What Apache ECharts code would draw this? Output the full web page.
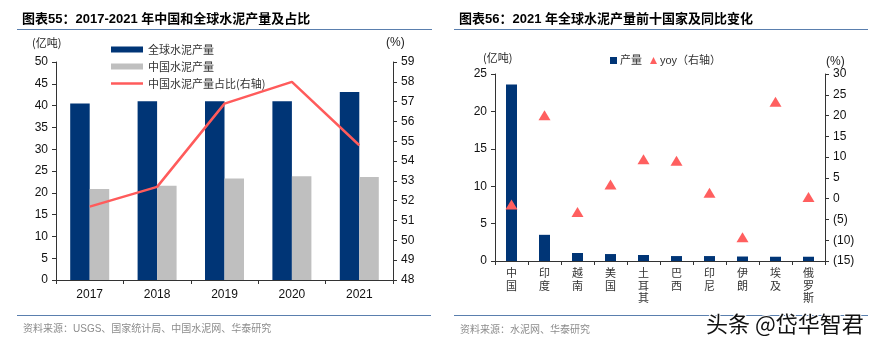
<!DOCTYPE html>
<html><head><meta charset="utf-8">
<script src="https://cdn.jsdelivr.net/npm/echarts@6/dist/echarts.min.js"></script>
<style>html,body{margin:0;padding:0;background:#fff}#c{width:876px;height:348px}</style>
</head><body><div id="c"></div>
<script>
// Left chart data
var years = ['2017', '2018', '2019', '2020', '2021'];
var globalOutput = [40.5, 41.0, 41.0, 41.0, 43.1];
var chinaOutput = [20.9, 21.6, 23.3, 23.8, 23.6];
var chinaShare = [51.7, 52.7, 56.9, 58.0, 54.8];
// Right chart data
var countries = ['中国', '印度', '越南', '美国', '土耳其', '巴西', '印尼', '伊朗', '埃及', '俄罗斯'];
var output2021 = [23.6, 3.5, 1.07, 0.93, 0.8, 0.66, 0.66, 0.6, 0.57, 0.57];
var yoy = [-1.4, 20.1, -3.2, 3.4, 9.5, 9.1, 1.4, -9.3, 23.3, 0.4];

var FONT = 'Liberation Sans, Arial, Noto Sans CJK SC, sans-serif';
var CJK = 'Noto Sans CJK SC, sans-serif';
var NAVY = '#003576', GRAY = '#bfbfbf', RED = '#ff5b5b';

var chart = echarts.init(document.getElementById('c'), null, {renderer: 'canvas'});
var axisLine = {show: true, lineStyle: {color: '#333', width: 1}};
var axisTick = {show: true, length: 4, lineStyle: {color: '#333'}};
var labelStyle = {color: '#111', fontSize: 12, fontFamily: FONT};

chart.setOption({
  animation: false,
  textStyle: {fontFamily: FONT},
  title: [
    {text: '图表55：2017-2021 年中国和全球水泥产量及占比', left: 17, top: 8,
      textStyle: {fontSize: 13, fontWeight: 'bold', color: '#000', fontFamily: FONT}},
    {text: '图表56：2021 年全球水泥产量前十国家及同比变化', left: 454, top: 8,
      textStyle: {fontSize: 13, fontWeight: 'bold', color: '#000', fontFamily: FONT}},
    {text: '资料来源：USGS、国家统计局、中国水泥网、华泰研究', left: 18, top: 319,
      textStyle: {fontSize: 10, fontWeight: 'normal', color: '#8c8c8c', fontFamily: FONT}},
    {text: '资料来源：水泥网、华泰研究', left: 455, top: 319,
      textStyle: {fontSize: 10, fontWeight: 'normal', color: '#8c8c8c', fontFamily: CJK}}
  ],
  graphic: [
    {type: 'line', shape: {x1: 17, y1: 29.5, x2: 432, y2: 29.5}, style: {stroke: '#5a7fae', lineWidth: 1}},
    {type: 'line', shape: {x1: 454, y1: 29.5, x2: 868, y2: 29.5}, style: {stroke: '#5a7fae', lineWidth: 1}},
    {type: 'line', shape: {x1: 17, y1: 315.5, x2: 431, y2: 315.5}, style: {stroke: '#5a7fae', lineWidth: 1}},
    {type: 'line', shape: {x1: 454, y1: 315.5, x2: 868, y2: 315.5}, style: {stroke: '#5a7fae', lineWidth: 1}},
    {type: 'text', left: 32, top: 37, style: {text: '(亿吨)', fill: '#222', font: '11px ' + CJK}},
    {type: 'text', left: 386, top: 37, style: {text: '(%)', fill: '#222', font: '12px ' + FONT}},
    {type: 'text', left: 483, top: 52, style: {text: '(亿吨)', fill: '#222', font: '11px ' + CJK}},
    {type: 'text', left: 826, top: 56, style: {text: '(%)', fill: '#222', font: '12px ' + FONT}},
    {type: 'text', left: 705, top: 312, z: 100, style: {text: '头条 @岱华智君', fill: '#111', stroke: '#fff', lineWidth: 2, font: '22px ' + CJK}}
  ],
  legend: [
    {orient: 'vertical', left: 106, top: 39, itemWidth: 32, itemHeight: 6, itemGap: 6,
      textStyle: {fontSize: 11, color: '#333', fontFamily: CJK},
      data: [{name: '全球水泥产量', icon: 'rect'}, {name: '中国水泥产量', icon: 'rect'},
        {name: '中国水泥产量占比(右轴)', icon: 'path://M0,0 L32,0 L32,2.5 L0,2.5 Z', itemStyle: {color: RED}}]},
    {orient: 'horizontal', left: 605, top: 50, itemWidth: 7, itemHeight: 7, itemGap: 8,
      textStyle: {fontSize: 11, color: '#333', fontFamily: FONT, padding: [0, 0, 0, -2]},
      data: [{name: '产量', icon: 'rect'}, {name: 'yoy（右轴）', icon: 'triangle'}]}
  ],
  grid: [
    {left: 56, right: 483, top: 62, bottom: 68},
    {left: 495, right: 51, top: 74, bottom: 87}
  ],
  xAxis: [
    {type: 'category', gridIndex: 0, data: years, axisLine: axisLine,
      axisTick: {show: true, length: 4, alignWithLabel: false, lineStyle: {color: '#333'}},
      axisLabel: {color: '#111', fontSize: 12, fontFamily: FONT, margin: 9}},
    {type: 'category', gridIndex: 1, data: countries, axisLine: axisLine,
      axisTick: {show: true, length: 4, lineStyle: {color: '#333'}},
      axisLabel: {color: '#333', fontSize: 11, fontFamily: CJK, margin: 6, lineHeight: 12.5,
        formatter: function (v) { return v.split('').join('\n'); }}}
  ],
  yAxis: [
    {type: 'value', gridIndex: 0, min: 0, max: 50, interval: 5, splitLine: {show: false},
      axisLine: axisLine, axisTick: axisTick, axisLabel: labelStyle},
    {type: 'value', gridIndex: 0, min: 48, max: 59, interval: 1, position: 'right', splitLine: {show: false},
      axisLine: axisLine, axisTick: axisTick, axisLabel: labelStyle},
    {type: 'value', gridIndex: 1, min: 0, max: 25, interval: 5, splitLine: {show: false},
      axisLine: axisLine, axisTick: axisTick, axisLabel: labelStyle},
    {type: 'value', gridIndex: 1, min: -15, max: 30, interval: 5, position: 'right', splitLine: {show: false},
      axisLine: axisLine, axisTick: axisTick,
      axisLabel: {color: '#111', fontSize: 12, fontFamily: FONT,
        formatter: function (v) { return v < 0 ? '(' + (-v) + ')' : String(v); }}}
  ],
  series: [
    {name: '全球水泥产量', type: 'bar', xAxisIndex: 0, yAxisIndex: 0, data: globalOutput,
      barWidth: 19.5, barGap: '0%', itemStyle: {color: NAVY}},
    {name: '中国水泥产量', type: 'bar', xAxisIndex: 0, yAxisIndex: 0, data: chinaOutput,
      barWidth: 19.5, barGap: '0%', itemStyle: {color: GRAY}},
    {name: '中国水泥产量占比(右轴)', type: 'line', xAxisIndex: 0, yAxisIndex: 1, data: chinaShare,
      symbol: 'none', showSymbol: false, lineStyle: {color: RED, width: 2.5}, itemStyle: {color: RED}},
    {name: '产量', type: 'bar', xAxisIndex: 1, yAxisIndex: 2, data: output2021,
      barWidth: 11, itemStyle: {color: NAVY}},
    {name: 'yoy（右轴）', type: 'scatter', xAxisIndex: 1, yAxisIndex: 3, data: yoy,
      symbol: 'triangle', symbolSize: [12, 10], itemStyle: {color: '#ff5f5f', opacity: 1}}
  ]
});
</script></body></html>
